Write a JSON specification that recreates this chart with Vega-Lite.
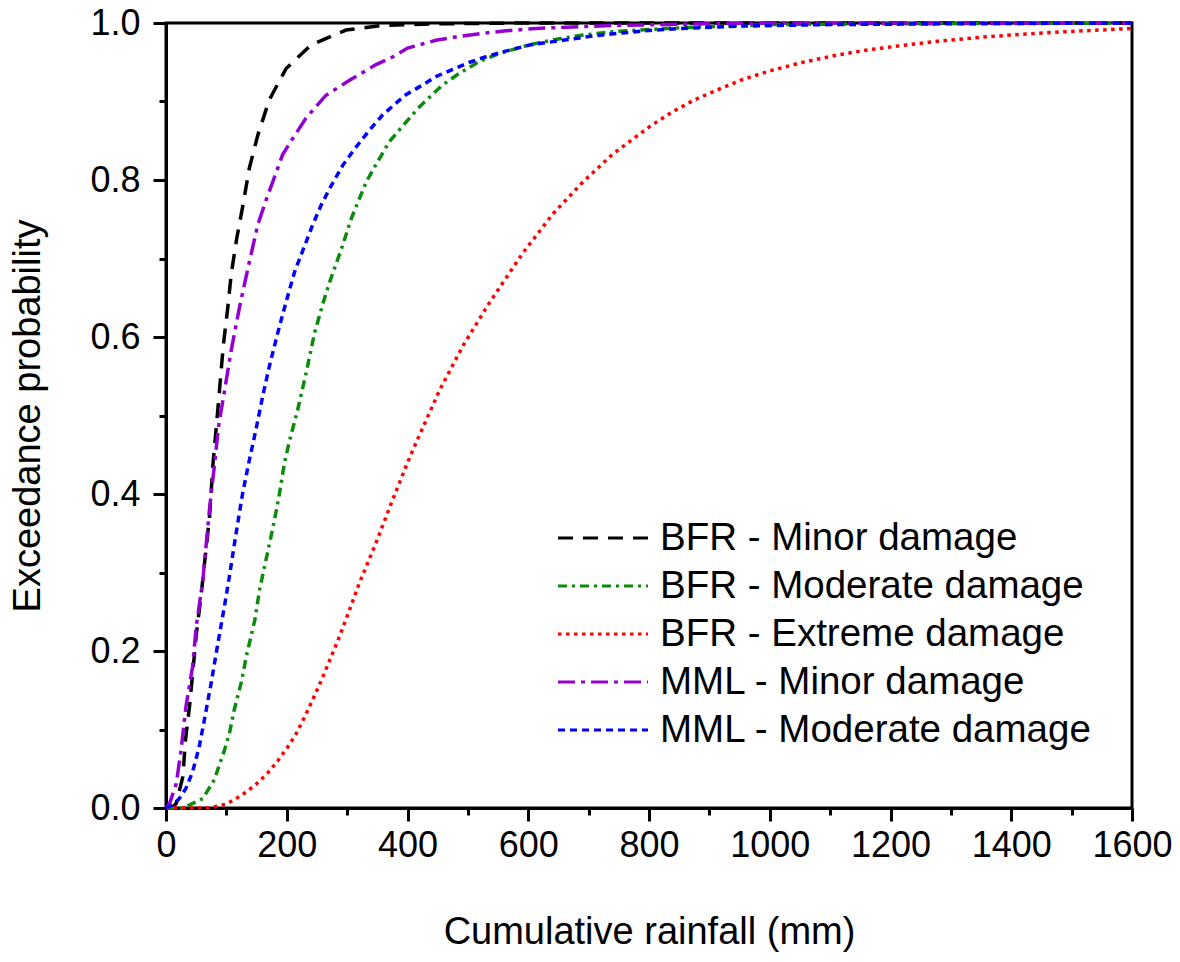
{
  "$schema": "https://vega.github.io/schema/vega-lite/v6.json",
  "width": 966,
  "height": 785,
  "autosize": {"type": "none"},
  "padding": {"left": 166, "top": 23, "right": 48, "bottom": 154},
  "background": "white",
  "config": {
    "font": "Liberation Sans",
    "view": {"stroke": "black", "strokeWidth": 3},
    "legend": {
      "orient": "none",
      "legendX": 390,
      "legendY": 500,
      "padding": 0,
      "symbolType": "stroke",
      "symbolSize": 8100,
      "symbolStrokeWidth": 3.2,
      "clipHeight": 30,
      "rowPadding": 9,
      "labelFontSize": 38.5,
      "labelColor": "black",
      "labelOffset": 10,
      "labelLimit": 600
    }
  },
  "datasets": {
    "curves": [
      {"series": "BFR - Minor damage", "rainfall": 0, "prob": 0},
      {"series": "BFR - Minor damage", "rainfall": 10, "prob": 0},
      {"series": "BFR - Minor damage", "rainfall": 17, "prob": 0.006},
      {"series": "BFR - Minor damage", "rainfall": 28, "prob": 0.04},
      {"series": "BFR - Minor damage", "rainfall": 32, "prob": 0.085},
      {"series": "BFR - Minor damage", "rainfall": 39, "prob": 0.13},
      {"series": "BFR - Minor damage", "rainfall": 44, "prob": 0.17},
      {"series": "BFR - Minor damage", "rainfall": 50, "prob": 0.22},
      {"series": "BFR - Minor damage", "rainfall": 58, "prob": 0.27},
      {"series": "BFR - Minor damage", "rainfall": 65, "prob": 0.32},
      {"series": "BFR - Minor damage", "rainfall": 72, "prob": 0.37},
      {"series": "BFR - Minor damage", "rainfall": 78, "prob": 0.44},
      {"series": "BFR - Minor damage", "rainfall": 85, "prob": 0.5},
      {"series": "BFR - Minor damage", "rainfall": 90, "prob": 0.545},
      {"series": "BFR - Minor damage", "rainfall": 95, "prob": 0.59},
      {"series": "BFR - Minor damage", "rainfall": 102, "prob": 0.635},
      {"series": "BFR - Minor damage", "rainfall": 108, "prob": 0.68},
      {"series": "BFR - Minor damage", "rainfall": 117, "prob": 0.725},
      {"series": "BFR - Minor damage", "rainfall": 127, "prob": 0.766},
      {"series": "BFR - Minor damage", "rainfall": 138, "prob": 0.815},
      {"series": "BFR - Minor damage", "rainfall": 152, "prob": 0.857},
      {"series": "BFR - Minor damage", "rainfall": 171, "prob": 0.902},
      {"series": "BFR - Minor damage", "rainfall": 199, "prob": 0.942},
      {"series": "BFR - Minor damage", "rainfall": 240, "prob": 0.972},
      {"series": "BFR - Minor damage", "rainfall": 298, "prob": 0.991},
      {"series": "BFR - Minor damage", "rainfall": 359, "prob": 0.997},
      {"series": "BFR - Minor damage", "rainfall": 450, "prob": 0.999},
      {"series": "BFR - Minor damage", "rainfall": 600, "prob": 1.0},
      {"series": "BFR - Minor damage", "rainfall": 1600, "prob": 1.0},

      {"series": "BFR - Moderate damage", "rainfall": 0, "prob": 0},
      {"series": "BFR - Moderate damage", "rainfall": 30, "prob": 0},
      {"series": "BFR - Moderate damage", "rainfall": 42, "prob": 0.005},
      {"series": "BFR - Moderate damage", "rainfall": 61, "prob": 0.012},
      {"series": "BFR - Moderate damage", "rainfall": 80, "prob": 0.036},
      {"series": "BFR - Moderate damage", "rainfall": 97, "prob": 0.074},
      {"series": "BFR - Moderate damage", "rainfall": 105, "prob": 0.095},
      {"series": "BFR - Moderate damage", "rainfall": 113, "prob": 0.125},
      {"series": "BFR - Moderate damage", "rainfall": 125, "prob": 0.161},
      {"series": "BFR - Moderate damage", "rainfall": 133, "prob": 0.193},
      {"series": "BFR - Moderate damage", "rainfall": 147, "prob": 0.239},
      {"series": "BFR - Moderate damage", "rainfall": 155, "prob": 0.278},
      {"series": "BFR - Moderate damage", "rainfall": 163, "prob": 0.307},
      {"series": "BFR - Moderate damage", "rainfall": 174, "prob": 0.346},
      {"series": "BFR - Moderate damage", "rainfall": 183, "prob": 0.38},
      {"series": "BFR - Moderate damage", "rainfall": 188, "prob": 0.401},
      {"series": "BFR - Moderate damage", "rainfall": 196, "prob": 0.439},
      {"series": "BFR - Moderate damage", "rainfall": 205, "prob": 0.469},
      {"series": "BFR - Moderate damage", "rainfall": 218, "prob": 0.507},
      {"series": "BFR - Moderate damage", "rainfall": 232, "prob": 0.554},
      {"series": "BFR - Moderate damage", "rainfall": 246, "prob": 0.605},
      {"series": "BFR - Moderate damage", "rainfall": 260, "prob": 0.643},
      {"series": "BFR - Moderate damage", "rainfall": 271, "prob": 0.67},
      {"series": "BFR - Moderate damage", "rainfall": 290, "prob": 0.711},
      {"series": "BFR - Moderate damage", "rainfall": 307, "prob": 0.751},
      {"series": "BFR - Moderate damage", "rainfall": 318, "prob": 0.772},
      {"series": "BFR - Moderate damage", "rainfall": 332, "prob": 0.798},
      {"series": "BFR - Moderate damage", "rainfall": 348, "prob": 0.82},
      {"series": "BFR - Moderate damage", "rainfall": 370, "prob": 0.849},
      {"series": "BFR - Moderate damage", "rainfall": 398, "prob": 0.874},
      {"series": "BFR - Moderate damage", "rainfall": 417, "prob": 0.891},
      {"series": "BFR - Moderate damage", "rainfall": 440, "prob": 0.908},
      {"series": "BFR - Moderate damage", "rainfall": 458, "prob": 0.921},
      {"series": "BFR - Moderate damage", "rainfall": 484, "prob": 0.935},
      {"series": "BFR - Moderate damage", "rainfall": 519, "prob": 0.951},
      {"series": "BFR - Moderate damage", "rainfall": 552, "prob": 0.961},
      {"series": "BFR - Moderate damage", "rainfall": 591, "prob": 0.97},
      {"series": "BFR - Moderate damage", "rainfall": 619, "prob": 0.975},
      {"series": "BFR - Moderate damage", "rainfall": 652, "prob": 0.98},
      {"series": "BFR - Moderate damage", "rainfall": 685, "prob": 0.984},
      {"series": "BFR - Moderate damage", "rainfall": 740, "prob": 0.989},
      {"series": "BFR - Moderate damage", "rainfall": 784, "prob": 0.991},
      {"series": "BFR - Moderate damage", "rainfall": 828, "prob": 0.993},
      {"series": "BFR - Moderate damage", "rainfall": 884, "prob": 0.995},
      {"series": "BFR - Moderate damage", "rainfall": 1000, "prob": 0.998},
      {"series": "BFR - Moderate damage", "rainfall": 1200, "prob": 0.999},
      {"series": "BFR - Moderate damage", "rainfall": 1600, "prob": 1.0},

      {"series": "BFR - Extreme damage", "rainfall": 0, "prob": 0},
      {"series": "BFR - Extreme damage", "rainfall": 72, "prob": 0},
      {"series": "BFR - Extreme damage", "rainfall": 100, "prob": 0.005},
      {"series": "BFR - Extreme damage", "rainfall": 125, "prob": 0.016},
      {"series": "BFR - Extreme damage", "rainfall": 149, "prob": 0.03},
      {"series": "BFR - Extreme damage", "rainfall": 169, "prob": 0.045},
      {"series": "BFR - Extreme damage", "rainfall": 185, "prob": 0.06},
      {"series": "BFR - Extreme damage", "rainfall": 202, "prob": 0.078},
      {"series": "BFR - Extreme damage", "rainfall": 216, "prob": 0.095},
      {"series": "BFR - Extreme damage", "rainfall": 229, "prob": 0.115},
      {"series": "BFR - Extreme damage", "rainfall": 243, "prob": 0.138},
      {"series": "BFR - Extreme damage", "rainfall": 257, "prob": 0.162},
      {"series": "BFR - Extreme damage", "rainfall": 271, "prob": 0.188},
      {"series": "BFR - Extreme damage", "rainfall": 285, "prob": 0.214},
      {"series": "BFR - Extreme damage", "rainfall": 298, "prob": 0.24},
      {"series": "BFR - Extreme damage", "rainfall": 309, "prob": 0.263},
      {"series": "BFR - Extreme damage", "rainfall": 320, "prob": 0.286},
      {"series": "BFR - Extreme damage", "rainfall": 334, "prob": 0.312},
      {"series": "BFR - Extreme damage", "rainfall": 348, "prob": 0.338},
      {"series": "BFR - Extreme damage", "rainfall": 359, "prob": 0.36},
      {"series": "BFR - Extreme damage", "rainfall": 373, "prob": 0.388},
      {"series": "BFR - Extreme damage", "rainfall": 400, "prob": 0.44},
      {"series": "BFR - Extreme damage", "rainfall": 414, "prob": 0.465},
      {"series": "BFR - Extreme damage", "rainfall": 453, "prob": 0.532},
      {"series": "BFR - Extreme damage", "rainfall": 492, "prob": 0.589},
      {"series": "BFR - Extreme damage", "rainfall": 536, "prob": 0.644},
      {"series": "BFR - Extreme damage", "rainfall": 591, "prob": 0.707},
      {"series": "BFR - Extreme damage", "rainfall": 641, "prob": 0.757},
      {"series": "BFR - Extreme damage", "rainfall": 690, "prob": 0.797},
      {"series": "BFR - Extreme damage", "rainfall": 740, "prob": 0.833},
      {"series": "BFR - Extreme damage", "rainfall": 801, "prob": 0.868},
      {"series": "BFR - Extreme damage", "rainfall": 837, "prob": 0.886},
      {"series": "BFR - Extreme damage", "rainfall": 875, "prob": 0.902},
      {"series": "BFR - Extreme damage", "rainfall": 917, "prob": 0.916},
      {"series": "BFR - Extreme damage", "rainfall": 955, "prob": 0.928},
      {"series": "BFR - Extreme damage", "rainfall": 1000, "prob": 0.939},
      {"series": "BFR - Extreme damage", "rainfall": 1055, "prob": 0.95},
      {"series": "BFR - Extreme damage", "rainfall": 1110, "prob": 0.959},
      {"series": "BFR - Extreme damage", "rainfall": 1165, "prob": 0.966},
      {"series": "BFR - Extreme damage", "rainfall": 1226, "prob": 0.972},
      {"series": "BFR - Extreme damage", "rainfall": 1281, "prob": 0.977},
      {"series": "BFR - Extreme damage", "rainfall": 1353, "prob": 0.982},
      {"series": "BFR - Extreme damage", "rainfall": 1425, "prob": 0.986},
      {"series": "BFR - Extreme damage", "rainfall": 1491, "prob": 0.989},
      {"series": "BFR - Extreme damage", "rainfall": 1546, "prob": 0.991},
      {"series": "BFR - Extreme damage", "rainfall": 1600, "prob": 0.993},

      {"series": "MML - Minor damage", "rainfall": 0, "prob": 0},
      {"series": "MML - Minor damage", "rainfall": 6, "prob": 0.006},
      {"series": "MML - Minor damage", "rainfall": 17, "prob": 0.031},
      {"series": "MML - Minor damage", "rainfall": 25, "prob": 0.074},
      {"series": "MML - Minor damage", "rainfall": 33, "prob": 0.129},
      {"series": "MML - Minor damage", "rainfall": 44, "prob": 0.18},
      {"series": "MML - Minor damage", "rainfall": 50, "prob": 0.231},
      {"series": "MML - Minor damage", "rainfall": 61, "prob": 0.29},
      {"series": "MML - Minor damage", "rainfall": 72, "prob": 0.38},
      {"series": "MML - Minor damage", "rainfall": 75, "prob": 0.401},
      {"series": "MML - Minor damage", "rainfall": 80, "prob": 0.435},
      {"series": "MML - Minor damage", "rainfall": 87, "prob": 0.486},
      {"series": "MML - Minor damage", "rainfall": 97, "prob": 0.532},
      {"series": "MML - Minor damage", "rainfall": 108, "prob": 0.583},
      {"series": "MML - Minor damage", "rainfall": 122, "prob": 0.639},
      {"series": "MML - Minor damage", "rainfall": 137, "prob": 0.692},
      {"series": "MML - Minor damage", "rainfall": 152, "prob": 0.743},
      {"series": "MML - Minor damage", "rainfall": 166, "prob": 0.775},
      {"series": "MML - Minor damage", "rainfall": 177, "prob": 0.798},
      {"series": "MML - Minor damage", "rainfall": 193, "prob": 0.832},
      {"series": "MML - Minor damage", "rainfall": 210, "prob": 0.853},
      {"series": "MML - Minor damage", "rainfall": 232, "prob": 0.879},
      {"series": "MML - Minor damage", "rainfall": 265, "prob": 0.908},
      {"series": "MML - Minor damage", "rainfall": 304, "prob": 0.927},
      {"series": "MML - Minor damage", "rainfall": 348, "prob": 0.947},
      {"series": "MML - Minor damage", "rainfall": 376, "prob": 0.957},
      {"series": "MML - Minor damage", "rainfall": 400, "prob": 0.968},
      {"series": "MML - Minor damage", "rainfall": 447, "prob": 0.978},
      {"series": "MML - Minor damage", "rainfall": 486, "prob": 0.983},
      {"series": "MML - Minor damage", "rainfall": 525, "prob": 0.987},
      {"series": "MML - Minor damage", "rainfall": 563, "prob": 0.99},
      {"series": "MML - Minor damage", "rainfall": 613, "prob": 0.993},
      {"series": "MML - Minor damage", "rainfall": 674, "prob": 0.995},
      {"series": "MML - Minor damage", "rainfall": 746, "prob": 0.997},
      {"series": "MML - Minor damage", "rainfall": 828, "prob": 0.998},
      {"series": "MML - Minor damage", "rainfall": 900, "prob": 0.999},
      {"series": "MML - Minor damage", "rainfall": 1000, "prob": 1.0},
      {"series": "MML - Minor damage", "rainfall": 1600, "prob": 1.0},

      {"series": "MML - Moderate damage", "rainfall": 0, "prob": 0},
      {"series": "MML - Moderate damage", "rainfall": 11, "prob": 0.004},
      {"series": "MML - Moderate damage", "rainfall": 22, "prob": 0.012},
      {"series": "MML - Moderate damage", "rainfall": 33, "prob": 0.025},
      {"series": "MML - Moderate damage", "rainfall": 44, "prob": 0.046},
      {"series": "MML - Moderate damage", "rainfall": 55, "prob": 0.078},
      {"series": "MML - Moderate damage", "rainfall": 64, "prob": 0.114},
      {"series": "MML - Moderate damage", "rainfall": 75, "prob": 0.16},
      {"series": "MML - Moderate damage", "rainfall": 86, "prob": 0.21},
      {"series": "MML - Moderate damage", "rainfall": 97, "prob": 0.258},
      {"series": "MML - Moderate damage", "rainfall": 105, "prob": 0.295},
      {"series": "MML - Moderate damage", "rainfall": 113, "prob": 0.335},
      {"series": "MML - Moderate damage", "rainfall": 122, "prob": 0.378},
      {"series": "MML - Moderate damage", "rainfall": 127, "prob": 0.401},
      {"series": "MML - Moderate damage", "rainfall": 138, "prob": 0.443},
      {"series": "MML - Moderate damage", "rainfall": 149, "prob": 0.482},
      {"series": "MML - Moderate damage", "rainfall": 160, "prob": 0.524},
      {"series": "MML - Moderate damage", "rainfall": 171, "prob": 0.562},
      {"series": "MML - Moderate damage", "rainfall": 185, "prob": 0.605},
      {"series": "MML - Moderate damage", "rainfall": 199, "prob": 0.645},
      {"series": "MML - Moderate damage", "rainfall": 213, "prob": 0.683},
      {"series": "MML - Moderate damage", "rainfall": 232, "prob": 0.721},
      {"series": "MML - Moderate damage", "rainfall": 243, "prob": 0.743},
      {"series": "MML - Moderate damage", "rainfall": 257, "prob": 0.768},
      {"series": "MML - Moderate damage", "rainfall": 271, "prob": 0.789},
      {"series": "MML - Moderate damage", "rainfall": 293, "prob": 0.819},
      {"series": "MML - Moderate damage", "rainfall": 309, "prob": 0.836},
      {"series": "MML - Moderate damage", "rainfall": 326, "prob": 0.853},
      {"series": "MML - Moderate damage", "rainfall": 342, "prob": 0.868},
      {"series": "MML - Moderate damage", "rainfall": 359, "prob": 0.883},
      {"series": "MML - Moderate damage", "rainfall": 381, "prob": 0.898},
      {"series": "MML - Moderate damage", "rainfall": 398, "prob": 0.909},
      {"series": "MML - Moderate damage", "rainfall": 425, "prob": 0.921},
      {"series": "MML - Moderate damage", "rainfall": 448, "prob": 0.932},
      {"series": "MML - Moderate damage", "rainfall": 475, "prob": 0.941},
      {"series": "MML - Moderate damage", "rainfall": 503, "prob": 0.95},
      {"series": "MML - Moderate damage", "rainfall": 530, "prob": 0.957},
      {"series": "MML - Moderate damage", "rainfall": 552, "prob": 0.962},
      {"series": "MML - Moderate damage", "rainfall": 577, "prob": 0.967},
      {"series": "MML - Moderate damage", "rainfall": 602, "prob": 0.972},
      {"series": "MML - Moderate damage", "rainfall": 630, "prob": 0.975},
      {"series": "MML - Moderate damage", "rainfall": 657, "prob": 0.978},
      {"series": "MML - Moderate damage", "rainfall": 685, "prob": 0.981},
      {"series": "MML - Moderate damage", "rainfall": 712, "prob": 0.984},
      {"series": "MML - Moderate damage", "rainfall": 737, "prob": 0.986},
      {"series": "MML - Moderate damage", "rainfall": 765, "prob": 0.988},
      {"series": "MML - Moderate damage", "rainfall": 792, "prob": 0.99},
      {"series": "MML - Moderate damage", "rainfall": 850, "prob": 0.993},
      {"series": "MML - Moderate damage", "rainfall": 950, "prob": 0.996},
      {"series": "MML - Moderate damage", "rainfall": 1100, "prob": 0.998},
      {"series": "MML - Moderate damage", "rainfall": 1300, "prob": 0.999},
      {"series": "MML - Moderate damage", "rainfall": 1600, "prob": 1.0}
    ]
  },
  "data": {"name": "curves"},
  "layer": [
    {
      "mark": {"type": "line", "strokeWidth": 3.5, "clip": false},
      "encoding": {
        "x": {
          "field": "rainfall", "type": "quantitative",
          "scale": {"domain": [0, 1600], "nice": false, "zero": false},
          "axis": {
            "orient": "bottom",
            "values": [0, 200, 400, 600, 800, 1000, 1200, 1400, 1600],
            "format": "d",
            "title": "Cumulative rainfall (mm)",
            "grid": false,
            "domainColor": "black", "domainWidth": 3,
            "tickColor": "black", "tickWidth": 3, "tickSize": 13,
            "labelFontSize": 36, "labelColor": "black", "labelPadding": 7,
            "labelFlush": false, "labelOverlap": false,
            "titleFontSize": 38, "titleFontWeight": "normal", "titleColor": "black", "titlePadding": 50
          }
        },
        "y": {
          "field": "prob", "type": "quantitative",
          "scale": {"domain": [0, 1], "nice": false},
          "axis": {
            "orient": "left",
            "values": [0, 0.2, 0.4, 0.6, 0.8, 1.0],
            "format": ".1f",
            "title": "Exceedance probability",
            "grid": false,
            "domainColor": "black", "domainWidth": 3,
            "tickColor": "black", "tickWidth": 3, "tickSize": 13,
            "labelFontSize": 36, "labelColor": "black", "labelPadding": 13,
            "labelFlush": false, "labelOverlap": false,
            "titleFontSize": 38, "titleFontWeight": "normal", "titleColor": "black", "titlePadding": 42
          }
        },
        "color": {
          "field": "series", "type": "nominal",
          "scale": {
            "domain": ["BFR - Minor damage", "BFR - Moderate damage", "BFR - Extreme damage", "MML - Minor damage", "MML - Moderate damage"],
            "range": ["#000000", "#0a8c0a", "#ff0000", "#9400d3", "#0000ff"]
          },
          "legend": {"title": null}
        },
        "strokeDash": {
          "field": "series", "type": "nominal",
          "scale": {
            "domain": ["BFR - Minor damage", "BFR - Moderate damage", "BFR - Extreme damage", "MML - Minor damage", "MML - Moderate damage"],
            "range": [[15, 10], [9, 5, 3, 5], [3.5, 4.5], [17, 6, 4, 6], [7, 5]]
          },
          "legend": {"title": null}
        }
      }
    },
    {
      "mark": {"type": "line", "opacity": 0},
      "encoding": {
        "x": {
          "field": "rainfall", "type": "quantitative",
          "axis": {
            "orient": "bottom",
            "values": [100, 300, 500, 700, 900, 1100, 1300, 1500],
            "labels": false, "domain": false, "grid": false, "title": null,
            "tickColor": "black", "tickWidth": 3, "tickSize": 7
          }
        },
        "y": {
          "field": "prob", "type": "quantitative",
          "axis": {
            "orient": "left",
            "values": [0.1, 0.3, 0.5, 0.7, 0.9],
            "labels": false, "domain": false, "grid": false, "title": null,
            "tickColor": "black", "tickWidth": 3, "tickSize": 7
          }
        },
        "detail": {"field": "series", "type": "nominal"}
      }
    }
  ],
  "resolve": {"axis": {"x": "independent", "y": "independent"}}
}
